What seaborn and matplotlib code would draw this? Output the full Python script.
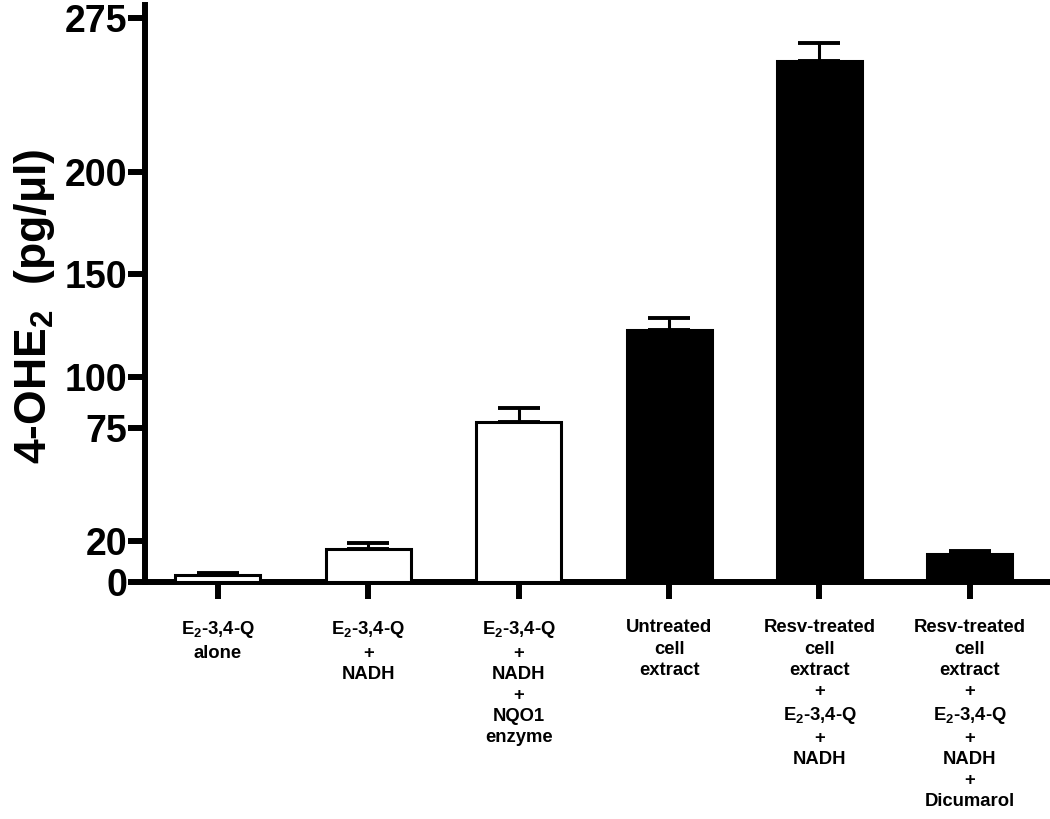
import matplotlib
matplotlib.use("Agg")
import matplotlib.pyplot as plt
import seaborn as sns
import numpy as np

# data
groups = [
    "E$_\\mathregular{2}$-3,4-Q\nalone",
    "E$_\\mathregular{2}$-3,4-Q\n+\nNADH",
    "E$_\\mathregular{2}$-3,4-Q\n+\nNADH\n+\nNQO1\nenzyme",
    "Untreated\ncell\nextract",
    "Resv-treated\ncell\nextract\n+\nE$_\\mathregular{2}$-3,4-Q\n+\nNADH",
    "Resv-treated\ncell\nextract\n+\nE$_\\mathregular{2}$-3,4-Q\n+\nNADH\n+\nDicumarol",
]
values = [3.5, 16, 78, 123, 254, 13.5]
errors = [1.0, 3.2, 7.0, 5.8, 9.0, 1.8]
fills = ["white", "white", "white", "black", "black", "black"]
yticks = [0, 20, 75, 100, 150, 200, 275]

sns.set_style("ticks")
plt.rcParams["font.family"] = ["Liberation Sans", "DejaVu Sans"]
plt.rcParams["font.weight"] = "bold"
plt.rcParams["text.color"] = "black"
plt.rcParams["axes.edgecolor"] = "black"
plt.rcParams["xtick.color"] = "black"
plt.rcParams["ytick.color"] = "black"
plt.rcParams["axes.labelcolor"] = "black"

fig = plt.figure(figsize=(10.5, 8.19), dpi=100)
ax = fig.add_axes([145 / 1050, 1 - 582 / 819, 903 / 1050, 577 / 819])

x = np.arange(len(values))
sns.barplot(x=x, y=values, hue=x, palette=fills, legend=False,
            edgecolor="black", linewidth=2.2, width=0.565, ax=ax, zorder=3)

# one-sided error bars, drawn up from the bar top
ax.errorbar(x, values, yerr=[np.zeros(len(errors)), errors], fmt="none",
            ecolor="black", elinewidth=2.2, capsize=15, capthick=2.8, zorder=2)

ax.set_xlim(-0.485, 5.52)
ax.set_ylim(0, 281.3)
ax.set_yticks(yticks)
ax.set_yticklabels([str(t) for t in yticks], fontsize=27, fontweight="bold")
ax.set_xticks(x)
ax.set_xticklabels(groups, fontsize=13.3, fontweight="bold",
                   linespacing=1.32, va="top")

for side in ["top", "right"]:
    ax.spines[side].set_visible(False)
for side in ["left", "bottom"]:
    ax.spines[side].set_linewidth(4.3)
ax.tick_params(axis="both", width=4.3, length=12, direction="out")
ax.tick_params(axis="y", pad=1)
ax.tick_params(axis="x", pad=15)

ax.set_ylabel("4-OHE$_\\mathregular{2}$  (pg/\u03bcl)", fontsize=32, fontweight="bold")
ax.yaxis.set_label_coords(-0.097, 0.478)

fig.savefig("out.png", dpi=100)
